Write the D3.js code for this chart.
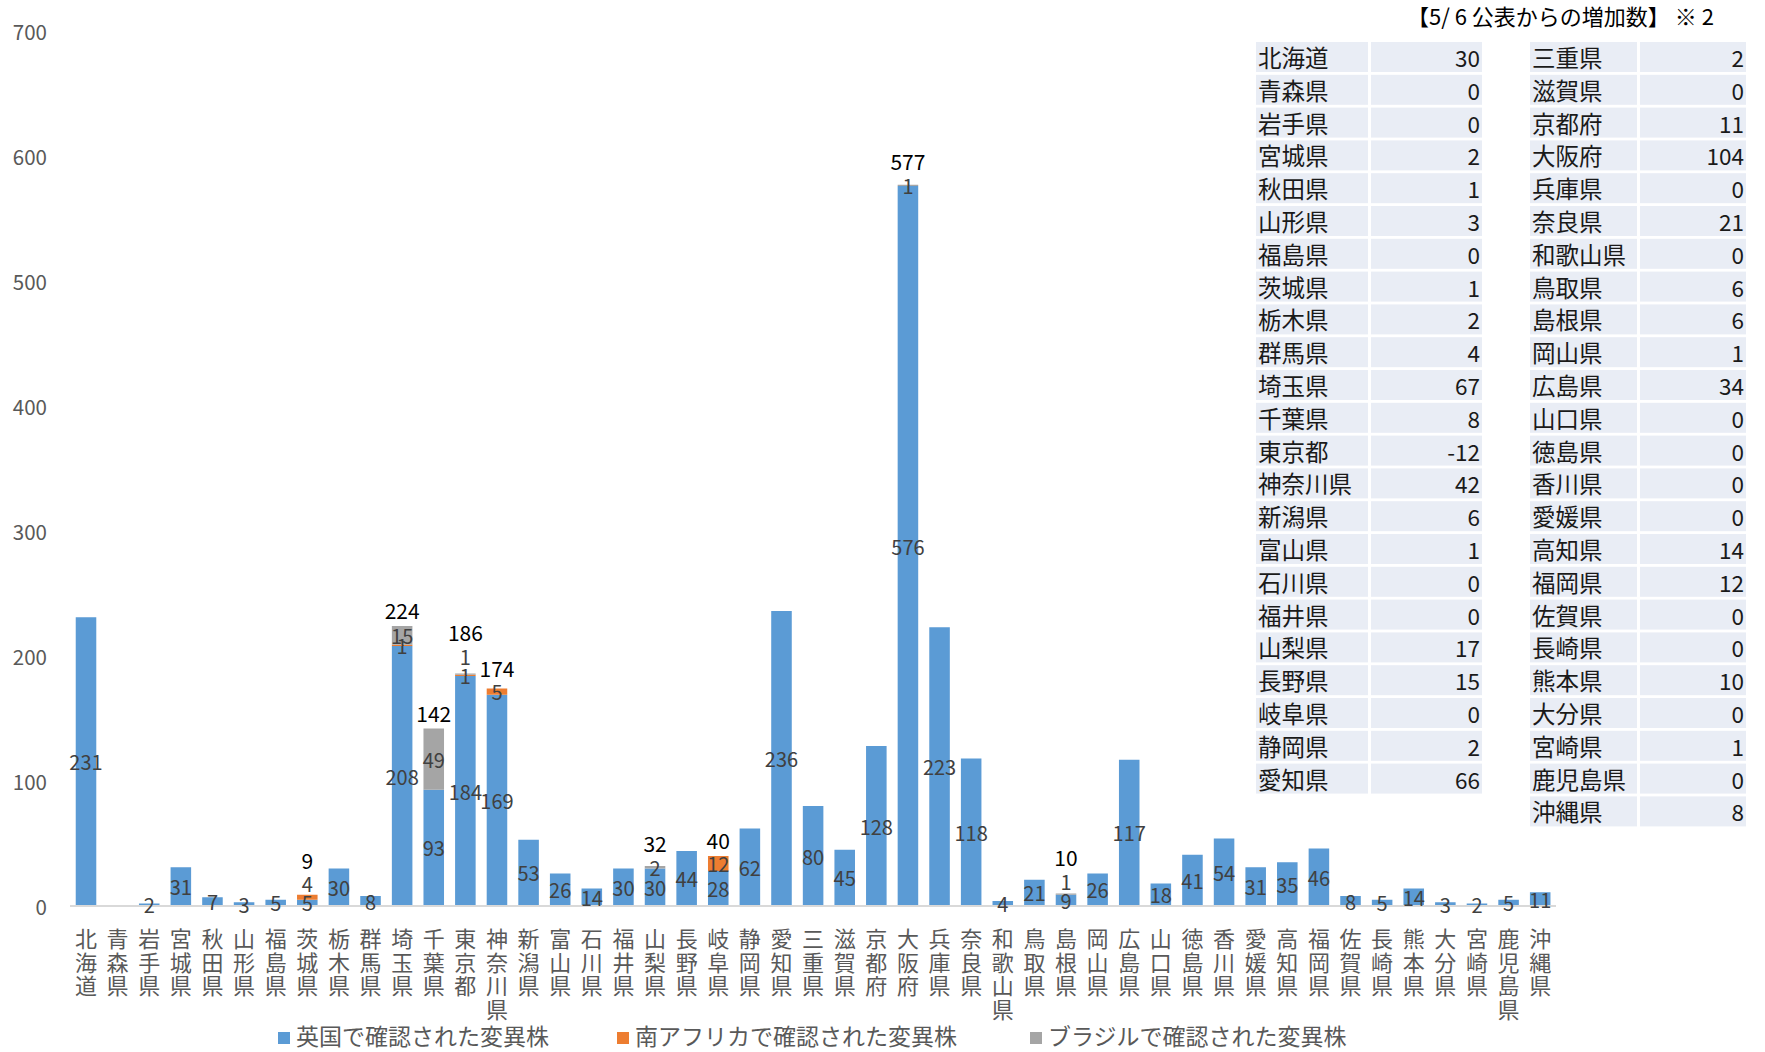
<!DOCTYPE html>
<html><head><meta charset="utf-8">
<script src="https://cdn.jsdelivr.net/npm/d3@7/dist/d3.min.js"></script>
<style>
html,body{margin:0;padding:0;background:#fff;}
svg{display:block;font-family:"Noto Sans CJK JP","Noto Sans",sans-serif;}
</style></head>
<body>
<svg id="chart" width="1765" height="1052"></svg>
<script>
// ---------- data ----------
const prefectures = ["北海道","青森県","岩手県","宮城県","秋田県","山形県","福島県","茨城県","栃木県","群馬県",
 "埼玉県","千葉県","東京都","神奈川県","新潟県","富山県","石川県","福井県","山梨県","長野県",
 "岐阜県","静岡県","愛知県","三重県","滋賀県","京都府","大阪府","兵庫県","奈良県","和歌山県",
 "鳥取県","島根県","岡山県","広島県","山口県","徳島県","香川県","愛媛県","高知県","福岡県",
 "佐賀県","長崎県","熊本県","大分県","宮崎県","鹿児島県","沖縄県"];
const ukVariant = [231,0,2,31,7,3,5,5,30,8,
 208,93,184,169,53,26,14,30,30,44,
 28,62,236,80,45,128,576,223,118,4,
 21,9,26,117,18,41,54,31,35,46,
 8,5,14,3,2,5,11];
const saVariant = [0,0,0,0,0,0,0,4,0,0,
 1,0,1,5,0,0,0,0,0,0,
 12,0,0,0,0,0,0,0,0,0,
 0,0,0,0,0,0,0,0,0,0,
 0,0,0,0,0,0,0];
const brVariant = [0,0,0,0,0,0,0,0,0,0,
 15,49,1,0,0,0,0,0,2,0,
 0,0,0,0,0,0,1,0,0,0,
 0,1,0,0,0,0,0,0,0,0,
 0,0,0,0,0,0,0];
const increaseSince0506 = [30,0,0,2,1,3,0,1,2,4,
 67,8,-12,42,6,1,0,0,17,15,
 0,2,66,2,0,11,104,0,21,0,
 6,6,1,34,0,0,0,0,14,12,
 0,0,10,0,1,0,8];
const seriesNames = ["英国で確認された変異株","南アフリカで確認された変異株","ブラジルで確認された変異株"];
const yTicks = [0,100,200,300,400,500,600,700];
const tableTitleMain = "【5/ 6 公表からの増加数】 ※";
const tableTitleNote = "2";
const tableSplit = 23;

// ---------- layout / style ----------
const colors = ["#5B9BD5","#ED7D31","#A5A5A5"];
const svg = d3.select("#chart");
const x = d3.scaleBand().domain(prefectures).range([70.2,1556]).paddingInner(0.35).paddingOuter(0.175);
const y = d3.scaleLinear().domain([0,700]).range([906,31]);

const rows = prefectures.map((p,i)=>({p, uk:ukVariant[i], sa:saVariant[i], br:brVariant[i]}));
const stack = d3.stack().keys(["uk","sa","br"])(rows);

// y tick labels
svg.append("g").selectAll("text").data(yTicks).join("text")
  .attr("x",47).attr("y",d=>y(d)).attr("text-anchor","end").attr("dominant-baseline","central")
  .attr("font-size",20.5).attr("fill","#595959").text(d=>d);

// bars
const gBars = svg.append("g");
stack.forEach((s,k)=>{
  gBars.append("g").attr("fill",colors[k]).selectAll("rect").data(s).join("rect")
    .attr("x",d=>x(d.data.p)).attr("width",x.bandwidth())
    .attr("y",d=>y(d[1])).attr("height",d=>Math.max(0,y(d[0])-y(d[1])));
});

// axis line
svg.append("line").attr("x1",70).attr("x2",1556).attr("y1",y(0)).attr("y2",y(0))
  .attr("stroke","#D9D9D9").attr("stroke-width",2);

// data labels (segment centers) + totals
const gLab = svg.append("g");
rows.forEach((r,i)=>{
  const cx = x(r.p)+x.bandwidth()/2;
  let prevY = null, topLabelY = null, nseg = 0;
  stack.forEach((s,k)=>{
    const d = s[i]; const v = d[1]-d[0];
    if (v<=0) return;
    nseg++;
    let ly = y((d[0]+d[1])/2);
    if (prevY!==null && Math.abs(prevY-ly)<9) ly = prevY-19;
    prevY = ly; topLabelY = ly;
    gLab.append("text").attr("x",cx).attr("y",ly).attr("text-anchor","middle")
      .attr("dominant-baseline","central").attr("font-size",20).attr("fill","#404040").text(v);
  });
  if (nseg>1){
    const tot = r.uk+r.sa+r.br;
    const ty = Math.min(y(tot)-16, topLabelY-24);
    gLab.append("text").attr("x",cx).attr("y",ty).attr("text-anchor","middle")
      .attr("dominant-baseline","central").attr("font-size",21).attr("fill","#000").text(tot);
  }
});

// x labels (vertical)
const gX = svg.append("g").attr("fill","#595959").attr("font-size",22);
prefectures.forEach(p=>{
  const cx = x(p)+x.bandwidth()/2;
  Array.from(p).forEach((ch,j)=>{
    gX.append("text").attr("x",cx).attr("y",937+j*23.5).attr("text-anchor","middle")
      .attr("dominant-baseline","central").text(ch);
  });
});

// legend
const legendX = [278,617,1030];
const gLeg = svg.append("g");
seriesNames.forEach((n,k)=>{
  gLeg.append("rect").attr("x",legendX[k]).attr("y",1032).attr("width",12).attr("height",12).attr("fill",colors[k]);
  gLeg.append("text").attr("x",legendX[k]+18).attr("y",1045)
    .attr("font-size",23).attr("fill","#595959").text(n);
});

// increase table
const title = svg.append("text").attr("x",1714).attr("y",15).attr("text-anchor","end").attr("dominant-baseline","central")
  .attr("font-size",22).attr("fill","#000");
title.append("tspan").text(tableTitleMain);
title.append("tspan").attr("dx",5).text(tableTitleNote);
const tables = [
  {names:prefectures.slice(0,tableSplit), vals:increaseSince0506.slice(0,tableSplit), nx:1256, nw:112, vx:1371, vw:111},
  {names:prefectures.slice(tableSplit), vals:increaseSince0506.slice(tableSplit), nx:1530, nw:107, vx:1640, vw:106}
];
const gT = svg.append("g");
tables.forEach(t=>{
  t.names.forEach((n,i)=>{
    const top = 42 + i*32.8;
    gT.append("rect").attr("x",t.nx).attr("y",top).attr("width",t.nw).attr("height",30).attr("fill","#E9EDF5");
    gT.append("rect").attr("x",t.vx).attr("y",top).attr("width",t.vw).attr("height",30).attr("fill","#E9EDF5");
    gT.append("text").attr("x",t.nx+2).attr("y",top+15).attr("dominant-baseline","central")
      .attr("font-size",23.5).attr("fill","#1a1a1a").text(n);
    gT.append("text").attr("x",t.vx+t.vw-2).attr("y",top+15).attr("text-anchor","end").attr("dominant-baseline","central")
      .attr("font-size",22.5).attr("fill","#1a1a1a").text(t.vals[i]);
  });
});
</script>
</body></html>
